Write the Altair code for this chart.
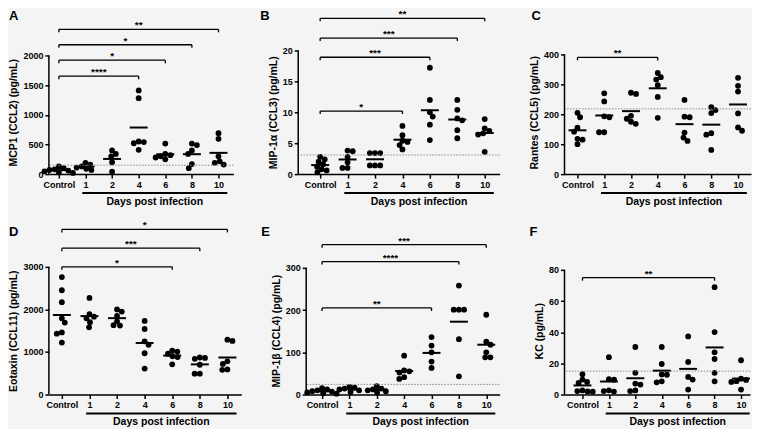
import math
import altair as alt
import pandas as pd

# ---------------- data ----------------
CATEGORIES = ["Control", "1", "2", "4", "6", "8", "10"]
X_GROUP_LABEL = "Days post infection"

MCP1 = [
    [130, 100, 80, 70, 60, 45, 30, 20],
    [190, 160, 130, 110, 90, 70],
    [400, 340, 300, 200, 40],
    [1410, 1280, 550, 540, 520, 410],
    [515, 340, 320, 300, 280, 250],
    [515, 490, 400, 340, 170, 100],
    [690, 595, 300, 215, 190, 160],
]
MIP1A = [
    [2.8, 2.4, 2.0, 1.6, 1.2, 0.8, 0.6, 0.3],
    [3.8, 3.7, 2.8, 1.9, 1.0, 1.0],
    [3.4, 3.4, 3.4, 1.4, 1.4, 1.4],
    [7.8, 6.3, 5.4, 5.2, 4.7, 4.0],
    [17.2, 12.0, 10.0, 9.3, 8.0, 5.5],
    [12.0, 10.4, 9.0, 8.7, 7.1, 5.8],
    [8.9, 7.4, 7.0, 6.6, 6.4, 3.6],
]
RANTES = [
    [205, 190, 155, 142, 118, 115, 100],
    [270, 243, 193, 190, 140, 140],
    [272, 268, 195, 185, 175, 168],
    [338, 324, 316, 297, 258, 188],
    [248, 192, 190, 139, 122, 111],
    [224, 214, 204, 137, 132, 81],
    [322, 295, 276, 203, 156, 145],
]
EOTAXIN = [
    [2760, 2450, 2170, 1790, 1690, 1460, 1430, 1220],
    [2270, 1890, 1830, 1790, 1700, 1580],
    [2000, 1950, 1850, 1720, 1630, 1620],
    [1730, 1540, 1250, 1170, 970, 610],
    [1030, 1010, 960, 900, 880, 710],
    [870, 860, 840, 700, 490, 490],
    [1290, 1260, 780, 720, 590, 580],
]
MIP1B = [
    [15, 12, 10, 8, 7, 5, 3, 2],
    [18, 16, 14, 12, 10, 6],
    [20, 14, 12, 10, 8, 5],
    [92, 57, 55, 52, 41, 37],
    [136, 116, 100, 78, 63],
    [258, 201, 201, 201, 131, 43],
    [189, 125, 118, 100, 88, 88],
]
KC = [
    [13, 9.6, 8.1, 7.4, 2.6, 2.2, 2.0, 1.8],
    [24, 9.8, 9.5, 2.7, 2.2, 1.9],
    [30.5, 13.9, 7.0, 6.4, 2.6, 2.2],
    [30.5, 19.6, 12.9, 12.7, 8.5, 7.8],
    [37.3, 20.9, 11.3, 9.6, 3.2],
    [68.9, 40.1, 27.1, 22.8, 13.9, 8.5],
    [22, 10.2, 9.4, 8.6, 8.1, 3.2],
]

TITLES = ["MCP1 (CCL2) (pg/mL)", "MIP-1\u03b1 (CCL3) (pg/mL)", "Rantes (CCL5) (pg/mL)",
          "Eotaxin (CCL11) (pg/mL)", "MIP-1\u03b2 (CCL4) (pg/mL)", "KC (pg/mL)"]
LETTERS = ["A", "B", "C", "D", "E", "F"]
SERIES = [MCP1, MIP1A, RANTES, EOTAXIN, MIP1B, KC]
Y_TICKS = [[0, 500, 1000, 1500, 2000], [0, 5, 10, 15, 20], [0, 100, 200, 300, 400],
           [0, 1000, 2000, 3000], [0, 100, 200, 300], [0, 20, 40, 60, 80]]
THRESHOLDS = [150, 3.1, 218, None, 24, 15]

# significance comparisons vs Control: group index, stars, bracket level
SIG_GROUP = [[3, 4, 5, 6], [3, 4, 5, 6], [3], [4, 5, 6], [4, 5, 6], [5]]
SIG_STARS = [["****", "*", "*", "**"], ["*", "***", "***", "**"], ["**"],
             ["*", "***", "*"], ["**", "****", "***"], ["**"]]
SIG_LEVEL = [[1650, 1920, 2180, 2440], [10.2, 18.9, 22.0, 25.2], [390],
             [3000, 3440, 3880], [205, 315, 355], [75]]

# ---------------- layout / style ----------------
FONT = "Liberation Sans"
ROW_H = [124, 128]
WIDTHS = [185, 202, 187, 193, 194, 186]
XDOM = [(-0.375, 6.56), (-0.8, 6.545), (-0.485, 6.485),
        (-0.47, 6.506), (-0.58, 6.49), (-0.68, 6.34)]
AXIS_PX = [119, 124, 120, 128, 127, 125]   # pixel height of the labelled axis span
UNDERLINE = (0.88, 6.33)
LETTER_DX = [-40, -38, -33, -40, -45, -35]
LETTER_Y = -41
DOT_D = 6.5
SWARM_D = 5.2


def swarm(values, px_per_unit, eff):
    placed = []
    xs = [0.0] * len(values)
    order = sorted(range(len(values)), key=lambda i: -values[i])
    for i in order:
        y = values[i] * px_per_unit
        cands = [0.0]
        for px, py in placed:
            dy = abs(py - y)
            if dy < eff:
                dx = math.sqrt(eff * eff - dy * dy)
                cands += [px + dx, px - dx]
        ok = [c for c in cands
              if all((c - px) ** 2 + (y - py) ** 2 >= eff * eff - 1e-6 for px, py in placed)]
        s = sum(p[0] for p in placed)
        best = min(ok, key=lambda c: (round(abs(c), 3), c if s > 0 else -c))
        placed.append((best, y))
        xs[i] = best
    return xs


def panel(k):
    H = ROW_H[k // 3]
    W = WIDTHS[k]
    xmin, xmax = XDOM[k]
    ticks = Y_TICKS[k]
    ymax_axis = ticks[-1]
    ymax = ymax_axis * H / AXIS_PX[k]
    px_per_unit = H / ymax
    px_per_idx = W / (xmax - xmin)

    rows = []
    for g, vals in enumerate(SERIES[k]):
        offs = swarm(vals, px_per_unit, SWARM_D)
        for v, o in zip(vals, offs):
            rows.append({"idx": g, "x": g + o / px_per_idx, "value": v})
    df = pd.DataFrame(rows)

    xsc = alt.Scale(domain=[xmin, xmax], nice=False, zero=False)
    ysc = alt.Scale(domain=[0, ymax], nice=False, zero=False)
    label_expr = "[" + ",".join("'%s'" % c for c in CATEGORIES) + "][datum.value]"
    x_axis = alt.Axis(values=list(range(len(CATEGORIES))), tickCount=len(CATEGORIES),
                      labelExpr=label_expr, title=None,
                      grid=False, domain=True, domainColor="black", domainWidth=1.5,
                      ticks=True, tickColor="black", tickWidth=1.5, tickSize=4,
                      labelFlush=False, labelOverlap=False, labelPadding=2, labelBound=False)
    y_axis = alt.Axis(values=ticks, tickCount=len(ticks), format="d", title=TITLES[k],
                      grid=False, domain=False,
                      ticks=True, tickColor="black", tickWidth=1.5, tickSize=4,
                      labelPadding=2, titlePadding=4, labelOverlap=False)

    base = alt.Chart(df)
    layers = []
    points = base.mark_circle(size=DOT_D * DOT_D * 0.8, color="black", opacity=1).encode(
        x=alt.X("x:Q", scale=xsc, axis=x_axis),
        y=alt.Y("value:Q", scale=ysc, axis=y_axis),
    )
    layers.append(points)
    if THRESHOLDS[k] is not None:
        layers.append(alt.Chart(pd.DataFrame({"t": [THRESHOLDS[k]]}))
                      .mark_rule(color="#8a8a8a", strokeDash=[1.5, 1.5], strokeWidth=1)
                      .encode(y="t:Q"))
    means = base.transform_aggregate(m="mean(value)", groupby=["idx"]).mark_tick(
        orient="horizontal", size=18, thickness=2, color="black", opacity=1
    ).encode(x="idx:Q", y="m:Q")
    layers.append(means)

    yline = alt.Chart(pd.DataFrame({"a": [0], "b": [ymax_axis]})).mark_rule(
        color="black", strokeWidth=1.5).encode(x=alt.value(0), y="a:Q", y2="b:Q")
    layers.append(yline)

    if SIG_GROUP[k]:
        sdf = pd.DataFrame({"g": SIG_GROUP[k], "stars": SIG_STARS[k], "level": SIG_LEVEL[k]})
        sdf["zero"] = 0
        sdf["mid"] = sdf["g"] / 2
        layers.append(alt.Chart(sdf).mark_rule(color="black", strokeWidth=1.3)
                      .encode(x="zero:Q", x2="g:Q", y="level:Q"))
        edf = pd.concat([sdf.assign(xe=0), sdf.assign(xe=sdf["g"])])
        layers.append(alt.Chart(edf).mark_rule(color="black", strokeWidth=1.3, y2Offset=3)
                      .encode(x="xe:Q", y="level:Q", y2="level:Q"))
        layers.append(alt.Chart(sdf).mark_text(fontSize=10, fontWeight="bold", font=FONT,
                                               baseline="alphabetic", dy=-1, color="black")
                      .encode(x="mid:Q", y="level:Q", text="stars:N"))

    udf = pd.DataFrame({"x0": [UNDERLINE[0]], "x1": [UNDERLINE[1]], "y": [0],
                        "xc": [(UNDERLINE[0] + UNDERLINE[1]) / 2], "t": [X_GROUP_LABEL]})
    layers.append(alt.Chart(udf).mark_rule(color="black", strokeWidth=2, yOffset=19, y2Offset=19)
                  .encode(x="x0:Q", x2="x1:Q", y="y:Q"))
    layers.append(alt.Chart(udf).mark_text(fontSize=10.5, fontWeight="bold", font=FONT,
                                           yOffset=28, color="black")
                  .encode(x="xc:Q", y="y:Q", text="t:N"))
    layers.append(alt.Chart(pd.DataFrame({"t": [LETTERS[k]]})).mark_text(
        align="left", baseline="top", fontSize=13, fontWeight="bold", font=FONT, color="black")
        .encode(x=alt.value(LETTER_DX[k]), y=alt.value(LETTER_Y), text="t:N"))

    return alt.layer(*layers).properties(width=W, height=H)


row1 = alt.hconcat(panel(0), panel(1), panel(2), spacing=65, bounds="flush")
row2 = alt.hconcat(panel(3), panel(4), panel(5), spacing=65, bounds="flush")
chart = alt.vconcat(row1, row2, spacing=12).properties(
    padding=0, background="#f4f4f4"
).configure_view(stroke=None).configure_axis(
    labelFont=FONT, labelFontWeight="bold", labelFontSize=9, labelColor="black",
    titleFont=FONT, titleFontWeight="bold", titleFontSize=10.5, titleColor="black",
    labelOverlap=False,
)

chart.save("out.html", embed_options={"renderer": "svg", "actions": False})
